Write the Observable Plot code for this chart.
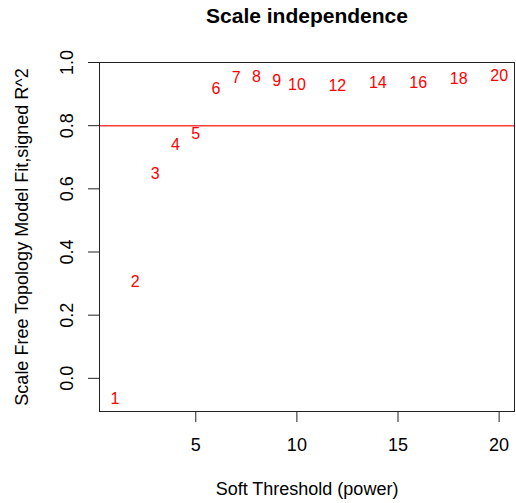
<!DOCTYPE html>
<html>
<head>
<meta charset="utf-8">
<script src="https://cdn.jsdelivr.net/npm/d3@7"></script>
<script src="https://cdn.jsdelivr.net/npm/@observablehq/plot@0.6"></script>
<style>
  html, body { margin: 0; padding: 0; background: #fff; }
  svg { display: block; }
</style>
</head>
<body>
<div id="chart"></div>
<script>
const powers = [1, 2, 3, 4, 5, 6, 7, 8, 9, 10, 12, 14, 16, 18, 20];
const signedR2 = [-0.065, 0.304, 0.647, 0.740, 0.773, 0.916, 0.951, 0.955, 0.942, 0.929, 0.926, 0.937, 0.937, 0.947, 0.958];
const xTicks = [5, 10, 15, 20];
const yTicks = [0.0, 0.2, 0.4, 0.6, 0.8, 1.0];
const cutHeight = 0.8;
const title = "Scale independence";
const xLabel = "Soft Threshold (power)";
const yLabel = "Scale Free Topology Model Fit,signed R^2";

const data = powers.map((p, i) => ({power: p, r2: signedR2[i]}));
const font = "'Liberation Sans', Arial, Helvetica, sans-serif";

const chart = Plot.plot({
  width: 516,
  height: 503,
  marginLeft: 99,
  marginRight: 2,
  marginTop: 62,
  marginBottom: 92,
  style: {fontFamily: font, fontSize: "18px", color: "#000", background: "#fff"},
  x: {domain: [0.24, 20.76]},
  y: {domain: [-0.105, 1.0]},
  marks: [
    Plot.ruleY([cutHeight], {stroke: "#ff3b3b", strokeWidth: 1.5}),
    Plot.text(data, {x: "power", y: "r2", text: d => String(d.power), fill: "#ff0000", fontSize: 16}),
    Plot.frame({stroke: "#222", strokeWidth: 1}),
    Plot.axisX({ticks: xTicks, tickSize: 11, tickFormat: () => "", label: null, stroke: "#222"}),
    Plot.axisY({ticks: yTicks, tickSize: 11, tickFormat: () => "", label: null, stroke: "#222"}),
    Plot.text(xTicks, {x: d => d, frameAnchor: "bottom", lineAnchor: "middle", dy: 34, text: d => String(d), fontSize: 18, fill: "#000"}),
    Plot.text(yTicks, {y: d => d, frameAnchor: "left", textAnchor: "middle", lineAnchor: "middle", dx: -32, rotate: -90, text: d => d.toFixed(1), fontSize: 18, fill: "#000"}),
    Plot.text([xLabel], {frameAnchor: "bottom", lineAnchor: "middle", dy: 78, fontSize: 18, fill: "#000"}),
    Plot.text([yLabel], {frameAnchor: "left", textAnchor: "middle", lineAnchor: "middle", dx: -77, rotate: -90, fontSize: 18, fill: "#000"}),
    Plot.text([title], {frameAnchor: "top", lineAnchor: "middle", dy: -46, fontSize: 21, fontWeight: "bold", fill: "#000"})
  ]
});
document.getElementById("chart").appendChild(chart);
</script>
</body>
</html>
